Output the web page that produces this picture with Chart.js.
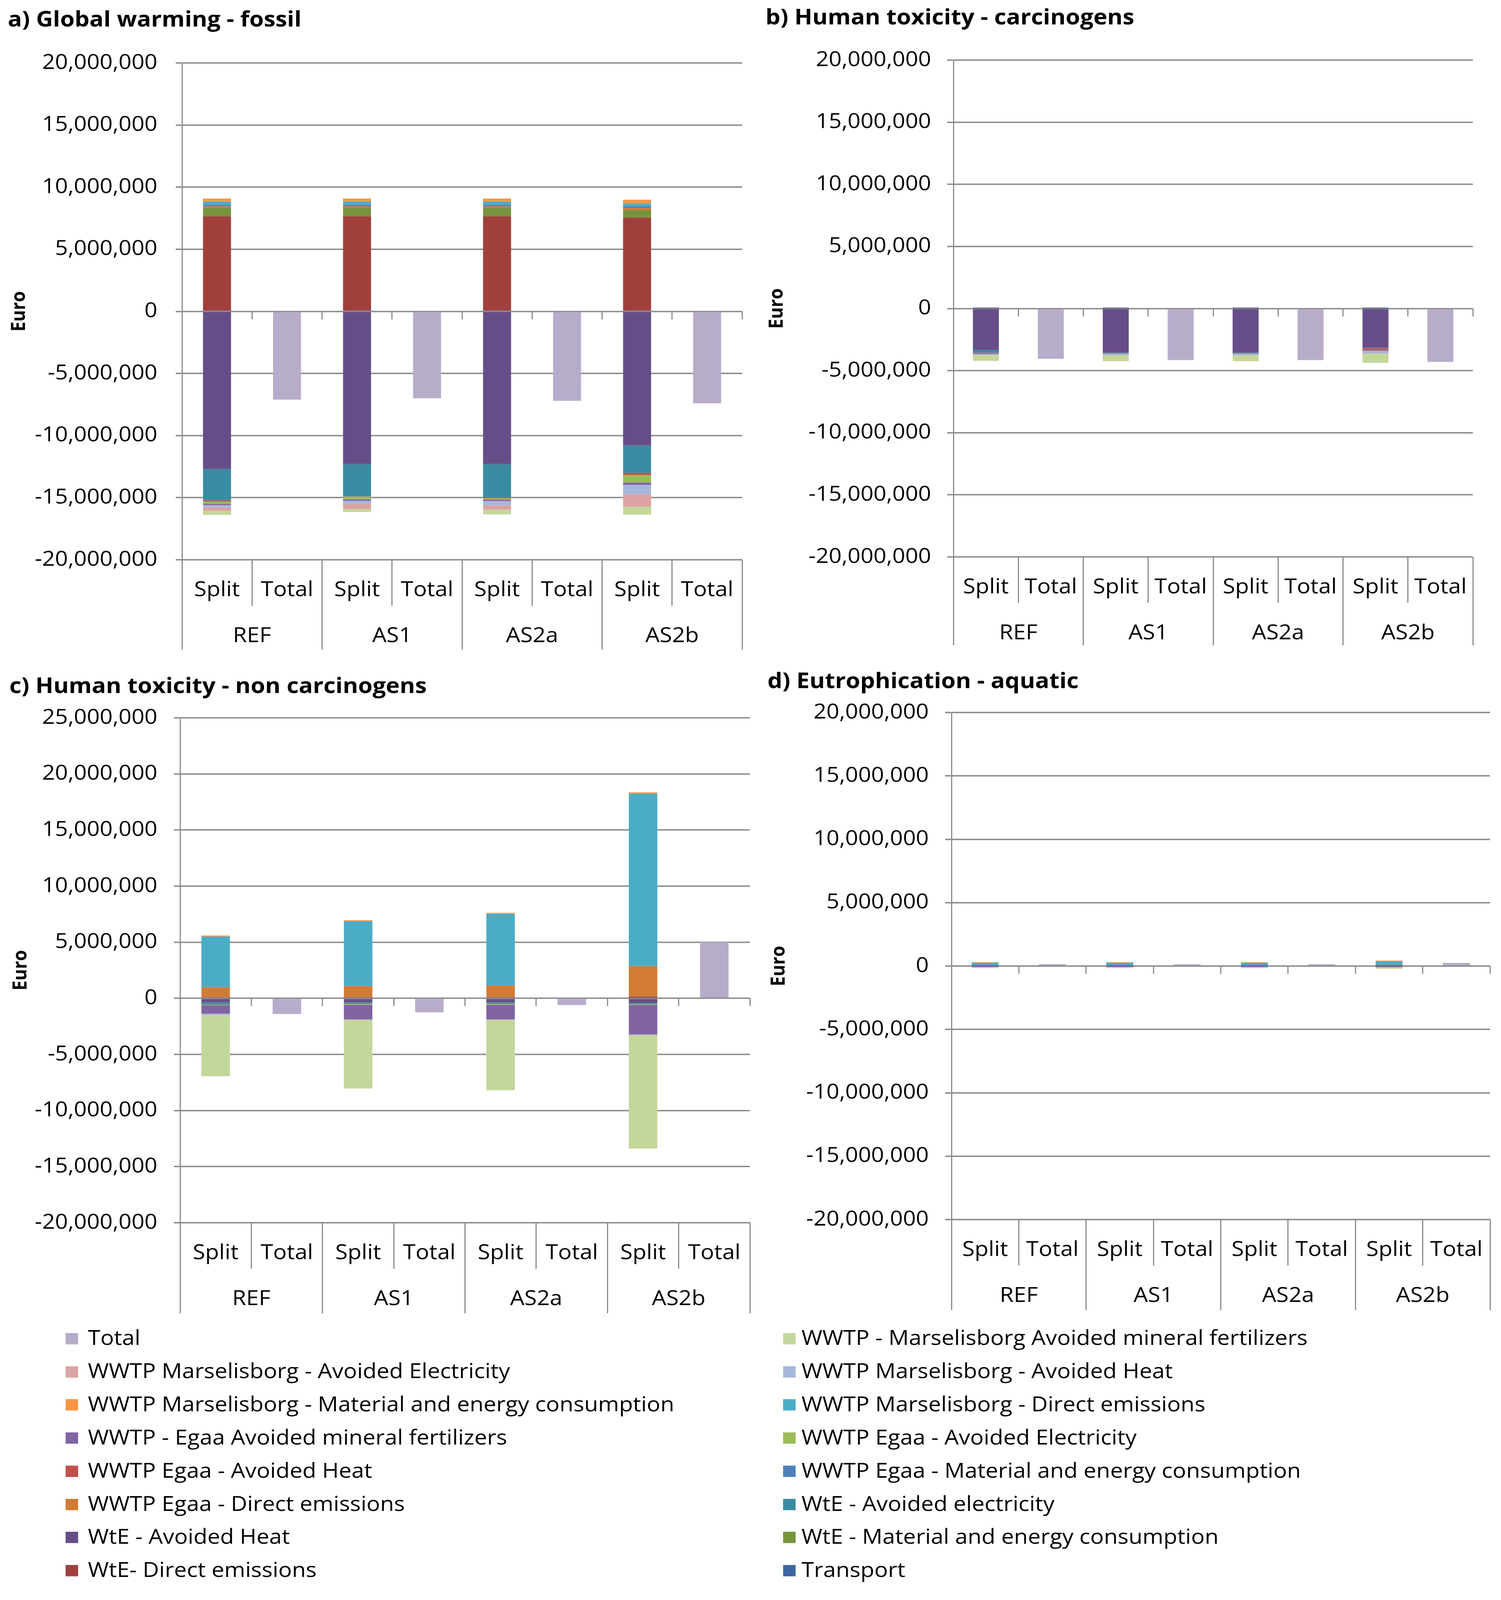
<!DOCTYPE html>
<html><head><meta charset="utf-8">
<script src="https://cdn.jsdelivr.net/npm/chart.js@4/dist/chart.umd.min.js"></script>
<style>
html,body{margin:0;padding:0;background:#fff;overflow:hidden;}
body{font-family:'Open Sans',sans-serif;}
#wrap{position:absolute;left:0;top:0;width:3843px;height:4525px;transform-origin:0 0;background:#fff;}
canvas{position:absolute;}
.lg{position:absolute;font-family:'Open Sans',sans-serif;font-size:58px;color:#000;white-space:nowrap;line-height:1;}
.lg i{position:absolute;width:32px;height:32px;}
</style></head><body>
<div id="wrap">
<canvas id="ca"></canvas><canvas id="cb"></canvas><canvas id="cc"></canvas><canvas id="cd"></canvas>
<div id="legend"></div>
</div>
<script>
// ---- data ----
const categories = ['Split','Total','Split','Total','Split','Total','Split','Total'];
const scenarios = ['REF','AS1','AS2a','AS2b'];
// stacking order (first = bottom of stack)
const seriesNames = [
  'Transport',
  'WtE- Direct emissions',
  'WtE - Material and energy consumption',
  'WtE - Avoided Heat',
  'WtE - Avoided electricity',
  'WWTP Egaa - Direct emissions',
  'WWTP Egaa - Material and energy consumption',
  'WWTP Egaa - Avoided Heat',
  'WWTP Egaa - Avoided Electricity',
  'WWTP - Egaa Avoided mineral fertilizers',
  'WWTP Marselisborg - Direct emissions',
  'WWTP Marselisborg - Material and energy consumption',
  'WWTP Marselisborg - Avoided Heat',
  'WWTP Marselisborg - Avoided Electricity',
  'WWTP - Marselisborg Avoided mineral fertilizers'
];
const seriesColors = ['#3C64A0','#A0403C','#77933C','#674D88','#3A8BA2','#D27B34','#4F81BD','#C0504D','#9BBB59','#8064A2','#4BACC6','#F79646','#A6B7DD','#DBA3A2','#C4D79B'];
const totalName = 'Total';
const totalColor = '#B8ACCB';

// a) Global warming - fossil (Euro), rows follow seriesNames, columns REF, AS1, AS2a, AS2b
const globalWarming = [
  [50000, 50000, 50000, 50000],
  [7600000, 7600000, 7600000, 7500000],
  [700000, 700000, 700000, 600000],
  [-12700000, -12300000, -12300000, -10800000],
  [-2500000, -2600000, -2650000, -2200000],
  [100000, 100000, 100000, 170000],
  [130000, 130000, 130000, 140000],
  [-100000, -20000, -80000, -170000],
  [-200000, -220000, -120000, -620000],
  [-100000, -120000, -120000, -180000],
  [250000, 250000, 250000, 220000],
  [250000, 250000, 250000, 310000],
  [-170000, -250000, -330000, -750000],
  [-270000, -400000, -370000, -1000000],
  [-350000, -250000, -380000, -650000]
];
const globalWarmingTotal = [-7100000, -7000000, -7200000, -7400000];

// b) Human toxicity - carcinogens
const humanToxCarc = [
  [10000, 10000, 10000, 10000],
  [20000, 20000, 20000, 20000],
  [20000, 20000, 20000, 20000],
  [-3350000, -3550000, -3550000, -3150000],
  [-200000, -50000, -50000, -40000],
  [10000, 10000, 10000, 10000],
  [10000, 10000, 10000, 10000],
  [-30000, -10000, -10000, -140000],
  [-10000, -10000, -10000, -10000],
  [-80000, -30000, -30000, -60000],
  [10000, 10000, 10000, 10000],
  [10000, 10000, 10000, 10000],
  [-50000, -100000, -100000, -200000],
  [-20000, -20000, -20000, -30000],
  [-470000, -470000, -470000, -750000]
];
const humanToxCarcTotal = [-4050000, -4150000, -4150000, -4300000];

// c) Human toxicity - non carcinogens
const humanToxNonCarc = [
  [50000, 50000, 50000, 50000],
  [30000, 30000, 30000, 100000],
  [20000, 20000, 20000, 20000],
  [-350000, -350000, -350000, -400000],
  [-200000, -120000, -120000, -100000],
  [880000, 1000000, 1050000, 2700000],
  [20000, 20000, 20000, 20000],
  [-20000, -20000, -20000, -20000],
  [-50000, -80000, -80000, -50000],
  [-750000, -1300000, -1300000, -2650000],
  [4500000, 5750000, 6350000, 15350000],
  [100000, 100000, 100000, 120000],
  [-100000, -50000, -50000, -50000],
  [-20000, -20000, -20000, -20000],
  [-5450000, -6100000, -6250000, -10100000]
];
const humanToxNonCarcTotal = [-1400000, -1250000, -600000, 5000000];

// d) Eutrophication - aquatic
const eutrophication = [
  [10000, 10000, 10000, 10000],
  [10000, 10000, 10000, 10000],
  [5000, 5000, 5000, 5000],
  [-20000, -20000, -20000, -20000],
  [-10000, -10000, -10000, -10000],
  [20000, 20000, 20000, 60000],
  [5000, 5000, 5000, 5000],
  [0, 0, 0, 0],
  [-5000, -5000, -5000, -5000],
  [-30000, -30000, -30000, -50000],
  [200000, 200000, 200000, 280000],
  [50000, 50000, 50000, 60000],
  [-10000, -10000, -10000, -10000],
  [-10000, -10000, -10000, -10000],
  [-80000, -80000, -80000, -120000]
];
const eutrophicationTotal = [150000, 140000, 140000, 250000];

const yTickStep = 5000000;

// ---- fit the 3843x4525 layout into the actual viewport ----
const wrap = document.getElementById('wrap');
const sy = Math.min(1, (window.innerHeight || 4525) / 4525);
const sx = Math.min(1, (window.innerWidth || 3843) / 3843);
wrap.style.transform = 'scale(' + sx + ',' + sy + ')';

// ---- drawing ----
const FONT = "'Open Sans', sans-serif";
const GRID = '#8C8C8C';
const TICK_SIZE = 58;
const LH = TICK_SIZE * 1.2;

function spread(vals, off) {
  const a = categories.map(() => null);
  vals.forEach((v, k) => { a[2 * k + off] = v; });
  return a;
}

function makeChart(id, title, matrix, totals, yMin, yMax, L) {
  const cv = document.getElementById(id);
  cv.width = L.w; cv.height = L.h;
  cv.style.left = L.x + 'px'; cv.style.top = L.y + 'px';
  cv.style.width = L.w + 'px'; cv.style.height = L.h + 'px';
  const datasets = seriesNames.map((n, i) => ({
    label: n, data: spread(matrix[i], 0), backgroundColor: seriesColors[i],
    borderWidth: 0, barPercentage: 0.4, categoryPercentage: 1, xAxisID: 'x', yAxisID: 'y'
  }));
  datasets.push({label: totalName, data: spread(totals, 1), backgroundColor: totalColor,
    borderWidth: 0, barPercentage: 0.4, categoryPercentage: 1, xAxisID: 'x', yAxisID: 'y'});
  const rowCenter = 86;
  return new Chart(cv, {
    type: 'bar',
    data: {labels: categories, datasets},
    options: {
      responsive: false, animation: false, devicePixelRatio: 1,
      layout: {padding: {left: L.pl, right: L.pr, top: L.pt, bottom: L.pb}},
      plugins: {
        legend: {display: false}, tooltip: {enabled: false},
        title: {display: true, text: title, align: 'start', color: '#000',
          font: {family: FONT, size: 60, weight: 'bold', lineHeight: 1.2},
          padding: {top: 0, bottom: L.tpb}}
      },
      scales: {
        x: {type: 'category', stacked: true, offset: true, position: 'bottom', weight: 0,
          grid: {offset: true, drawOnChartArea: false, drawTicks: true, tickLength: L.h1, color: GRID, lineWidth: 3},
          border: {display: false},
          ticks: {font: {family: FONT, size: TICK_SIZE}, color: '#000', maxRotation: 0, minRotation: 0, autoSkip: false,
            padding: rowCenter - L.h1 - LH / 2},
          afterFit(s) { s.height = L.h1; }
        },
        x2: {type: 'category', labels: scenarios, offset: true, position: 'bottom', weight: 1,
          grid: {offset: true, drawOnChartArea: false, drawTicks: true, tickLength: L.h2, color: GRID, lineWidth: 3},
          border: {display: false},
          ticks: {font: {family: FONT, size: TICK_SIZE}, color: '#000', maxRotation: 0, minRotation: 0, autoSkip: false,
            padding: rowCenter - L.h2 - LH / 2},
          afterFit(s) { s.height = L.h2; }
        },
        x0: {type: 'category', offset: true, position: {y: 0},
          grid: {offset: true, drawOnChartArea: false, drawTicks: true, tickLength: 22, color: GRID, lineWidth: 3},
          border: {display: false},
          ticks: {display: false}
        },
        y: {type: 'linear', stacked: true, min: yMin, max: yMax,
          ticks: {stepSize: yTickStep, font: {family: FONT, size: TICK_SIZE}, color: '#000', padding: L.ypad,
            callback: v => Number(v).toLocaleString('en-US')},
          grid: {color: GRID, lineWidth: 4, tickLength: 16, drawTicks: true},
          border: {display: true, color: GRID, width: 3},
          title: {display: true, text: 'Euro', color: '#000', font: {family: FONT, size: 50, weight: 'bold'}, padding: 0},
          afterFit(s) { s.width = L.yw; }
        }
      }
    }
  });
}

makeChart('ca', 'a) Global warming - fossil', globalWarming, globalWarmingTotal, -20000000, 20000000,
  {x: 0, y: 0, w: 1920, h: 1870, pl: 20, pr: 20, pt: 22, pb: 33, tpb: 84, yw: 446, ypad: 47, h1: 130, h2: 124});
makeChart('cb', 'b) Human toxicity - carcinogens', humanToxCarc, humanToxCarcTotal, -20000000, 20000000,
  {x: 1940, y: 0, w: 1903, h: 1870, pl: 20, pr: 72, pt: 16, pb: 45, tpb: 82, yw: 481, ypad: 41, h1: 130, h2: 120});
makeChart('cc', 'c) Human toxicity - non carcinogens', humanToxNonCarc, humanToxNonCarcTotal, -20000000, 25000000,
  {x: 0, y: 1880, w: 1940, h: 1860, pl: 24, pr: 20, pt: 27, pb: 26, tpb: 51, yw: 437, ypad: 42, h1: 130, h2: 126});
makeChart('cd', 'd) Eutrophication - aquatic', eutrophication, eutrophicationTotal, -20000000, 20000000,
  {x: 1940, y: 1880, w: 1903, h: 1860, pl: 25, pr: 28, pt: 13, pb: 35, tpb: 50, yw: 471, ypad: 42, h1: 130, h2: 126});

// ---- shared legend (Excel lists the stack in reverse order) ----
const legendItems = [{n: totalName, c: totalColor}];
for (let i = seriesNames.length - 1; i >= 0; i--) legendItems.push({n: seriesNames[i], c: seriesColors[i]});
const lg = document.getElementById('legend');
legendItems.forEach((it, k) => {
  const row = Math.floor(k / 2), col = k % 2;
  const cy = 3786 + row * 93.7;
  const d = document.createElement('div');
  d.className = 'lg';
  d.style.left = (col ? 2052 : 225) + 'px';
  d.style.top = (cy - 33) + 'px';
  d.textContent = it.n;
  const m = document.createElement('i');
  m.style.background = it.c;
  m.style.left = (col ? -47 : -57) + 'px';
  m.style.top = '17px';
  d.appendChild(m);
  lg.appendChild(d);
});
</script>
</body></html>
